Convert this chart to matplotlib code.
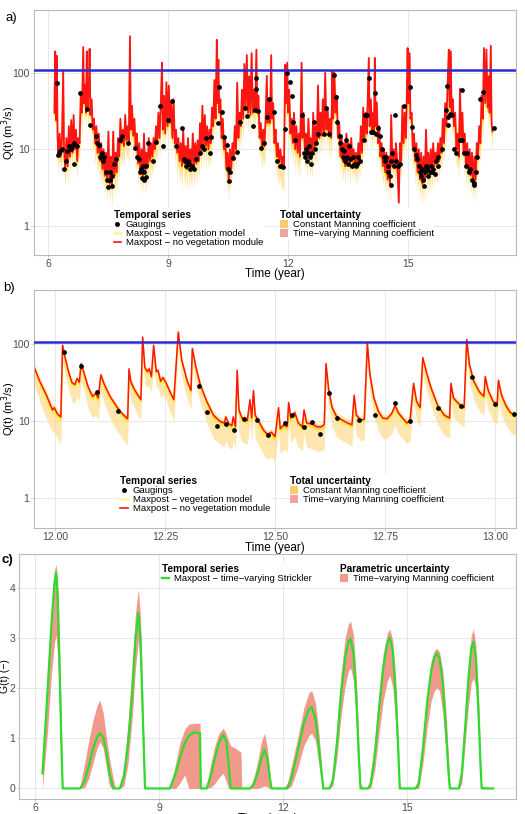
import matplotlib
matplotlib.use("Agg")
import matplotlib.pyplot as plt
from matplotlib.lines import Line2D
from matplotlib.patches import Patch
from matplotlib.ticker import NullLocator

plt.rcParams['font.family'] = ['Liberation Sans', 'DejaVu Sans']

# ---------------- panel a : 2006-2017 discharge ----------------
a_time = [6.15, 6.17, 6.19, 6.21, 6.23, 6.25, 6.28, 6.31, 6.34, 6.37, 6.39, 6.42, 6.45, 6.48, 6.51, 6.54,
          6.57, 6.60, 6.63, 6.66, 6.69, 6.72, 6.75, 6.78, 6.81, 6.84, 6.87, 6.89, 6.92, 6.94, 6.96, 6.98,
          7.01, 7.03, 7.05, 7.08, 7.11, 7.14, 7.17, 7.20, 7.23, 7.26, 7.29, 7.32, 7.35, 7.38, 7.41, 7.44,
          7.47, 7.50, 7.53, 7.56, 7.59, 7.62, 7.65, 7.68, 7.71, 7.74, 7.77, 7.80, 7.83, 7.86, 7.89, 7.92, 7.95, 7.98,
          8.01, 8.04, 8.06, 8.09, 8.12, 8.15, 8.18, 8.21, 8.24, 8.27, 8.30, 8.33, 8.36, 8.39, 8.42, 8.45,
          8.48, 8.51, 8.54, 8.57, 8.60, 8.63, 8.66, 8.69, 8.72, 8.75, 8.78, 8.81, 8.84, 8.86, 8.89, 8.92, 8.95, 8.98,
          9.01, 9.04, 9.07, 9.10, 9.13, 9.16, 9.19, 9.22, 9.25, 9.28, 9.31, 9.34, 9.37, 9.40, 9.43, 9.46,
          9.49, 9.52, 9.55, 9.58, 9.61, 9.64, 9.67, 9.70, 9.73, 9.76, 9.79, 9.82, 9.85, 9.88, 9.91, 9.94, 9.97,
          10.00, 10.03, 10.06, 10.09, 10.12, 10.15, 10.18, 10.21, 10.23, 10.25, 10.27, 10.30, 10.33, 10.36, 10.39, 10.42,
          10.45, 10.48, 10.51, 10.54, 10.57, 10.60, 10.63, 10.66, 10.69, 10.72, 10.75, 10.78, 10.81, 10.84, 10.87, 10.90,
          10.93, 10.96, 10.99,
          11.02, 11.05, 11.08, 11.11, 11.14, 11.17, 11.20, 11.22, 11.25, 11.28, 11.31, 11.34, 11.37, 11.40, 11.43, 11.46,
          11.48, 11.51, 11.54, 11.57, 11.59, 11.62, 11.65, 11.68, 11.71, 11.74, 11.77, 11.80, 11.83, 11.86, 11.89, 11.92,
          11.94, 11.97, 11.99,
          12.02, 12.05, 12.08, 12.11, 12.14, 12.17, 12.20, 12.23, 12.26, 12.29, 12.33, 12.35, 12.38, 12.41, 12.44, 12.47,
          12.50, 12.53, 12.56, 12.59, 12.62, 12.65, 12.68, 12.71, 12.74, 12.77, 12.80, 12.83, 12.86, 12.89, 12.92, 12.95, 12.98,
          13.01, 13.04, 13.07, 13.10, 13.12, 13.15, 13.18, 13.21, 13.24, 13.27, 13.30, 13.33, 13.36, 13.39, 13.42, 13.45,
          13.48, 13.51, 13.54, 13.57, 13.60, 13.63, 13.66, 13.69, 13.72, 13.75, 13.78, 13.81, 13.84, 13.87, 13.90, 13.93,
          13.96, 13.99,
          14.01, 14.03, 14.06, 14.09, 14.12, 14.14, 14.16, 14.18, 14.21, 14.24, 14.27, 14.30, 14.33, 14.36, 14.39, 14.42,
          14.45, 14.48, 14.51, 14.54, 14.57, 14.60, 14.63, 14.66, 14.69, 14.72, 14.76, 14.79, 14.82, 14.85, 14.88, 14.91,
          14.94, 14.98,
          15.00, 15.03, 15.05, 15.08, 15.11, 15.14, 15.17, 15.20, 15.23, 15.26, 15.29, 15.32, 15.35, 15.38, 15.41, 15.44,
          15.47, 15.50, 15.53, 15.56, 15.59, 15.62, 15.65, 15.68, 15.71, 15.74, 15.77, 15.80, 15.83, 15.86, 15.89, 15.92,
          15.95, 15.98,
          16.01, 16.03, 16.06, 16.08, 16.11, 16.14, 16.17, 16.20, 16.23, 16.26, 16.29, 16.32, 16.35, 16.38, 16.41, 16.44,
          16.47, 16.50, 16.53, 16.56, 16.59, 16.62, 16.65, 16.68, 16.71, 16.74, 16.77, 16.80, 16.83, 16.86, 16.89, 16.92,
          16.95, 16.98, 17.01, 17.03, 17.06, 17.08, 17.10]
# maxpost, no vegetation module (red)
a_red = [30, 190, 24, 166, 14, 9, 16, 8, 14, 106, 10, 5.5, 14, 6, 20, 8, 24, 9, 28, 10, 18, 7, 14, 12, 55, 30, 216, 40, 70, 30, 190, 35,
         60, 205, 28, 45, 18, 25, 12, 20, 9, 16, 7, 12, 5.5, 10, 4.5, 9, 3.8, 17, 3.5, 8, 3.2, 17, 4.5, 9, 5, 14, 8, 25, 12, 18, 11, 28, 13, 20,
         12, 300, 18, 37, 15, 25, 11, 16, 6.5, 12, 5, 10, 4.5, 16, 5, 9, 6, 14, 7, 12, 8, 14, 10, 20, 12, 30, 14, 40, 135, 18, 50, 16, 75, 20,
         68, 22, 40, 14, 45, 12, 18, 9, 14, 7, 12, 6, 18, 6.5, 11, 5.5, 14, 6, 10, 5.5, 16, 6, 12, 6.5, 13, 7, 22, 9, 37, 10, 28, 11, 20,
         10, 18, 12, 35, 20, 80, 25, 269, 40, 148, 30, 45, 14, 25, 10, 14, 5.5, 9, 3.8, 10, 5.5, 12, 8, 20, 10, 74, 14, 30, 20, 60, 25, 130, 35, 170, 30,
         90, 28, 180, 30, 60, 35, 200, 30, 50, 14, 22, 10, 18, 11, 25, 91, 22, 45, 22, 170, 25, 40, 12, 18, 8, 12, 7, 10, 6.5, 8, 6, 127, 40, 135, 30,
         60, 16, 25, 12, 30, 10, 20, 9, 16, 8, 135, 14, 30, 10, 16, 8, 25, 9, 14, 8, 30, 10, 20, 12, 68, 14, 30, 15, 45, 16, 100, 18, 35,
         15, 25, 14, 106, 25, 100, 30, 50, 14, 22, 8, 14, 7, 12, 6, 16, 7, 12, 6, 14, 7, 10, 6.5, 9, 6, 12, 6.5, 20, 9, 35, 14, 30, 16, 60,
         156, 20, 45, 17, 30, 18, 156, 20, 41, 12, 20, 8, 12, 6, 10, 5, 9, 4, 8, 3.5, 28, 6, 10, 6, 12, 6.5, 2, 12, 7, 37, 12, 30, 14, 210,
         40, 180, 25, 30, 10, 16, 7, 12, 5, 10, 4, 9, 3.5, 8, 4, 18, 5, 9, 5, 10, 5.5, 12, 6, 9, 6.5, 12, 7, 14, 9, 25, 12, 40, 20, 70,
         200, 35, 190, 30, 45, 20, 30, 10, 16, 8, 62, 13, 30, 9, 16, 6, 12, 5, 10, 4.5, 9, 3.5, 8, 4, 12, 8, 20, 12, 50, 25, 210, 40, 200, 35, 90, 30, 225, 22, 17]
# maxpost, vegetation model (yellow)
a_veg = [28, 175, 22, 150, 13, 8.5, 14, 7, 12, 95, 9, 5, 12, 5.5, 17, 7.5, 20, 8, 24, 9, 16, 6.5, 13, 11, 50, 27, 190, 36, 62, 27, 170, 32,
         55, 180, 25, 40, 16, 22, 11, 18, 8, 14, 6.2, 10, 5, 9, 4, 8, 3.4, 14, 3.2, 7, 3, 15, 4, 8, 4.5, 12, 7, 22, 11, 16, 10, 25, 12, 18,
         11, 260, 16, 33, 13, 22, 10, 14, 6, 10, 4.5, 9, 4, 14, 4.5, 8, 5.5, 12, 6.5, 11, 7, 13, 9, 18, 11, 27, 13, 36, 120, 16, 45, 15, 68, 18,
         60, 20, 36, 13, 40, 11, 16, 8, 12, 6.2, 10, 5.4, 16, 6, 10, 5, 12, 5.5, 9, 5, 14, 5.5, 10, 6, 12, 6.5, 19, 8, 33, 9, 25, 10, 18,
         9, 16, 11, 31, 18, 70, 22, 240, 36, 130, 27, 40, 13, 22, 9, 12, 5, 8, 3.5, 9, 5, 11, 7, 18, 9, 65, 13, 27, 18, 54, 22, 115, 31, 150, 27,
         80, 25, 160, 27, 54, 31, 175, 27, 45, 13, 20, 9, 16, 10, 22, 80, 20, 40, 20, 150, 22, 36, 11, 16, 7, 10, 6, 9, 6, 7, 5.5, 110, 36, 120, 27,
         54, 14, 22, 11, 27, 9, 18, 8, 14, 7, 120, 13, 27, 9, 14, 7, 22, 8, 12, 7, 27, 9, 18, 11, 60, 13, 27, 14, 40, 15, 88, 16, 31,
         14, 22, 13, 95, 22, 88, 27, 45, 13, 20, 7.5, 12, 6.5, 11, 5.5, 14, 6.5, 11, 5.5, 13, 6.5, 9, 6, 8, 5.5, 11, 6, 18, 8, 31, 13, 27, 15, 54,
         140, 18, 40, 16, 27, 16, 140, 18, 37, 11, 18, 7.5, 11, 5.5, 9, 4.5, 8, 3.7, 7, 3.2, 24, 5.5, 9, 5.5, 11, 6, 3.5, 11, 6.5, 33, 11, 27, 13, 190,
         36, 160, 22, 27, 9, 14, 6.5, 11, 4.5, 9, 3.6, 8, 3.2, 7, 3.7, 15, 4.5, 8, 4.5, 9, 5, 11, 5.5, 8, 6, 11, 6.5, 13, 8, 22, 11, 36, 18, 62,
         180, 31, 170, 27, 40, 18, 27, 9, 14, 7, 55, 12, 27, 8, 14, 5.5, 10, 4.5, 9, 4, 8, 3.2, 7, 3.7, 11, 7, 18, 11, 45, 22, 185, 36, 180, 31, 80, 27, 200, 20, 15]
# lower bound of total uncertainty, constant Manning coefficient
a_low = [18, 90, 12, 80, 7, 5, 8, 4.5, 7, 50, 5, 3.3, 6, 3.5, 9, 4.5, 10, 5, 12, 5.5, 9, 4, 8, 7, 25, 16, 90, 20, 32, 16, 85, 18,
         28, 90, 14, 20, 9, 12, 6, 9, 4.5, 7, 3.5, 5, 3, 4.5, 2.5, 4, 2, 6, 1.8, 3.5, 1.7, 6, 2.2, 4, 2.6, 6, 4, 10, 6, 8, 6, 12, 7, 9,
         6, 120, 9, 16, 7, 11, 5.5, 7, 3.5, 5, 2.8, 4.5, 2.5, 6, 2.6, 4, 3.2, 6, 3.8, 6, 4.5, 7, 5.5, 9, 6.5, 14, 7.5, 18, 60, 9, 22, 9, 32, 11,
         30, 12, 18, 7.5, 20, 6.5, 9, 4.5, 6, 3.5, 5, 3, 7, 3.2, 5, 3, 6, 3.2, 4.5, 3, 6, 3.2, 5, 3.5, 6, 4, 9, 5, 15, 5.5, 12, 6, 9,
         5.5, 8, 6, 15, 10, 35, 12, 110, 20, 65, 15, 20, 7, 11, 5, 6, 3, 4, 2.1, 4.5, 3, 6, 4.5, 9, 5.5, 30, 7.5, 14, 10, 27, 12, 55, 17, 75, 15,
         40, 14, 80, 15, 27, 17, 90, 15, 22, 7.5, 10, 5.5, 8, 6, 11, 40, 11, 20, 11, 75, 12, 18, 6, 8, 3.8, 5, 3.2, 4.5, 2.8, 3.5, 2.6, 55, 20, 60, 15,
         27, 8, 11, 6, 13, 5, 9, 4.5, 7, 4, 55, 7, 14, 5, 7, 4, 11, 4.5, 6, 4, 14, 5.5, 9, 6, 30, 7.5, 14, 8, 20, 9, 45, 9, 17,
         8, 12, 7.5, 45, 12, 45, 14, 22, 7.5, 10, 4.5, 6.5, 3.8, 5.5, 3.5, 7, 4, 6, 3.5, 7, 4, 5.5, 3.8, 5, 3.5, 6, 3.8, 9, 5, 15, 8, 14, 9, 27,
         70, 11, 20, 10, 15, 10, 70, 11, 18, 6.5, 9, 4.5, 6, 3.3, 5, 2.8, 4.5, 2.3, 4, 2, 10, 3.3, 5, 3.3, 6, 3.8, 1.8, 6, 4, 15, 6.5, 14, 7.5, 90,
         20, 80, 12, 14, 5, 7, 3.5, 5, 2.6, 4.5, 2, 4, 1.8, 3.5, 2, 6, 2.5, 4, 2.6, 4.5, 3, 5.5, 3.3, 4.5, 3.5, 6, 4, 7, 5, 11, 6.5, 18, 10, 30,
         90, 17, 85, 15, 20, 10, 14, 5.5, 7, 4, 25, 6.5, 14, 4.5, 7, 3.3, 5, 2.8, 4.5, 2.5, 4, 2, 3.8, 2.2, 5.5, 4, 9, 6.5, 20, 12, 90, 20, 85, 17, 40, 15, 100, 12, 10]

a_gauge_time = [6.21, 6.25, 6.27, 6.30, 6.35, 6.40, 6.43, 6.47, 6.52, 6.57,
                6.60, 6.63, 6.65, 6.72, 6.80, 6.97, 7.05, 7.18, 7.22, 7.27,
                7.29, 7.33, 7.36, 7.40, 7.44, 7.47, 7.50, 7.53, 7.55, 7.58,
                7.60, 7.64, 7.70, 7.78, 7.84, 8.00, 8.17, 8.22, 8.26, 8.29,
                8.31, 8.33, 8.36, 8.38, 8.40, 8.43, 8.45, 8.50, 8.62, 8.68,
                8.80, 8.86, 9.00, 9.09, 9.18, 9.34, 9.38, 9.42, 9.45, 9.48,
                9.52, 9.55, 9.60, 9.65, 9.70, 9.78, 9.83, 9.88, 9.93, 10.05,
                10.07, 10.23, 10.26, 10.33, 10.38, 10.47, 10.50, 10.52, 10.55, 10.61,
                10.72, 10.80, 10.91, 10.97, 11.11, 11.16, 11.19, 11.20, 11.24, 11.32,
                11.38, 11.47, 11.52, 11.63, 11.72, 11.78, 11.82, 11.86, 11.92, 11.97,
                12.03, 12.08, 12.11, 12.17, 12.34, 12.38, 12.41, 12.45, 12.47, 12.50,
                12.52, 12.55, 12.57, 12.60, 12.63, 12.66, 12.70, 12.75, 12.88, 12.95,
                13.01, 13.13, 13.19, 13.22, 13.28, 13.30, 13.34, 13.37, 13.40, 13.42,
                13.45, 13.47, 13.50, 13.52, 13.55, 13.58, 13.62, 13.65, 13.68, 13.72,
                13.75, 13.80, 13.88, 13.92, 13.96, 14.01, 14.06, 14.08, 14.11, 14.16,
                14.20, 14.25, 14.29, 14.35, 14.38, 14.42, 14.45, 14.48, 14.50, 14.53,
                14.56, 14.57, 14.60, 14.63, 14.66, 14.70, 14.74, 14.80, 14.88, 15.03,
                15.09, 15.15, 15.18, 15.22, 15.26, 15.28, 15.31, 15.33, 15.36, 15.38,
                15.41, 15.44, 15.47, 15.50, 15.53, 15.56, 15.58, 15.62, 15.66, 15.70,
                15.73, 15.75, 15.84, 15.95, 15.97, 15.99, 16.00, 16.05, 16.10, 16.15,
                16.20, 16.30, 16.34, 16.35, 16.40, 16.43, 16.47, 16.52, 16.55, 16.60,
                16.63, 16.65, 16.68, 16.72, 16.80, 16.87, 17.15]
a_gauge_q = [74, 8.5, 8.8, 9.5, 10, 5.5, 7, 9.5, 11, 10,
             11, 6.5, 12, 11, 55, 34, 21, 15, 12, 11.5,
             8, 9, 7, 8, 5, 4, 3.2, 5, 4, 3.3,
             4.5, 6.5, 7.5, 13, 15, 12, 10.5, 8, 7.5, 5,
             5.5, 4.2, 6, 5, 4, 6, 4.3, 12, 7, 12.5,
             37, 11, 24, 43, 11, 19, 7.5, 7, 6, 7,
             6.5, 5.5, 6, 5.5, 7.5, 9, 11, 10, 14, 9,
             14.5, 22, 66, 31, 14.5, 11.5, 5.5, 3.8, 5, 7.6,
             9.3, 23, 35, 27, 20, 33, 86, 62, 32, 10.5,
             12, 26, 45, 31, 7, 6, 6, 5.9, 18.5, 100,
             76, 50, 23, 13, 28, 9, 8, 10, 7, 9,
             11, 8, 6.5, 9, 22.6, 10, 12, 16, 16, 35,
             16, 92, 48, 23, 15, 12, 10, 8, 9.5, 7,
             13, 8, 6.5, 11, 7.5, 6, 8, 6.5, 6, 6.5,
             8, 7, 13, 28, 28, 84, 17, 16.8, 16.8, 55,
             16, 19, 15, 10, 8, 7, 8, 6, 5, 4.5,
             7, 3.4, 9, 6, 28, 7, 6, 6.5, 37, 66,
             19.5, 10, 8.5, 7.5, 6, 5, 4.5, 5.5, 4, 3.3,
             5, 6, 5.5, 4.5, 5, 6, 5, 5.5, 4.8, 7,
             6, 8, 10, 33, 68, 26, 21, 29, 28, 10,
             9, 13, 60, 13, 9, 6, 9, 5, 5.5, 4,
             3.6, 3.4, 5, 8, 45, 56, 19]

flood_threshold = 108

# ---------------- panel b : zoom on 2012 ----------------
b_time = [11.952, 11.965, 11.980, 11.994, 11.998, 12.005, 12.013, 12.017, 12.022, 12.030,
          12.038, 12.045, 12.050, 12.055, 12.059, 12.066, 12.075, 12.085, 12.092, 12.098,
          12.104, 12.112, 12.125, 12.140, 12.150, 12.160, 12.165, 12.168, 12.172, 12.180,
          12.188, 12.195, 12.199, 12.204, 12.210, 12.214, 12.219, 12.224, 12.230, 12.234,
          12.240, 12.245, 12.252, 12.260, 12.270, 12.280, 12.288, 12.300, 12.309, 12.312,
          12.320, 12.330, 12.345, 12.360, 12.375, 12.385, 12.388, 12.395, 12.402, 12.405,
          12.410, 12.414, 12.418, 12.425, 12.437, 12.443, 12.447, 12.451, 12.455, 12.465,
          12.475, 12.483, 12.492, 12.500, 12.508, 12.512, 12.520, 12.528, 12.531, 12.536,
          12.545, 12.553, 12.562, 12.566, 12.572, 12.585, 12.595, 12.605, 12.612, 12.616,
          12.622, 12.630, 12.640, 12.650, 12.665, 12.675, 12.680, 12.685, 12.695, 12.703,
          12.710, 12.716, 12.725, 12.735, 12.745, 12.755, 12.765, 12.773, 12.780, 12.790,
          12.800, 12.807, 12.815, 12.822, 12.830, 12.836, 12.845, 12.855, 12.870, 12.885,
          12.897, 12.900, 12.906, 12.915, 12.922, 12.930, 12.936, 12.942, 12.952, 12.965,
          12.975, 12.978, 12.985, 12.995, 13.005, 13.008, 13.015, 13.025, 13.035, 13.045, 13.050]
b_red = [51, 33, 22, 14, 15, 12.5, 11.4, 97, 70, 45,
         32, 30, 36, 32, 56, 42, 28, 21, 23, 20,
         40, 30, 21, 15.5, 13, 11.4, 10.8, 48, 33, 26,
         22, 19, 124, 50, 44, 48, 38, 97, 44, 46,
         33, 37, 32, 25, 19, 144, 62, 34, 25, 88,
         51, 30, 18, 12, 10, 9.5, 11.4, 9.3, 8.8, 11.4,
         8.5, 46, 14, 11, 10.2, 19, 11, 25, 12, 9.5,
         7.5, 6.8, 7.2, 6.3, 15, 8, 9, 8.5, 17.5, 11,
         13, 9.5, 8.5, 14, 9.5, 9.2, 8.5, 8.5, 9, 56,
         26, 15, 11.5, 10.6, 9.5, 9, 21.7, 12, 10.4, 10.6,
         102, 40, 20, 13.5, 11, 10.8, 12.5, 16, 13, 11,
         9.5, 10.2, 31, 18, 15, 67, 42, 27, 16, 12,
         11, 31, 20, 17.5, 16, 15, 115, 55, 33, 24,
         21, 38, 25, 18.5, 16, 34, 22, 16, 13, 12, 13]
b_veg = [49, 31, 20, 13, 14, 11.5, 10.5, 92, 66, 42,
         30, 28, 34, 30, 53, 40, 26, 19.5, 21.5, 18.5,
         38, 28, 19.5, 14.5, 12, 10.5, 10, 45, 31, 24,
         21, 18, 118, 47, 42, 46, 36, 92, 42, 44,
         31, 35, 30, 23.5, 18, 137, 59, 32, 23.5, 83,
         48, 28, 17, 11, 9.2, 8.8, 10.5, 8.6, 8, 10.5,
         7.8, 43, 13, 10.2, 9.4, 17.5, 10.2, 23, 11, 8.8,
         6.9, 6.2, 6.6, 5.8, 14, 7.4, 8.3, 7.8, 16, 10,
         12, 8.8, 7.8, 13, 8.8, 8.5, 7.8, 7.8, 8.3, 53,
         24.5, 14, 10.8, 10, 8.9, 8.4, 20.5, 11.3, 9.8, 10,
         97, 38, 19, 12.7, 10.4, 10.2, 11.8, 15, 12.2, 10.4,
         9, 9.6, 29, 17, 14, 63, 40, 25.5, 15, 11.3,
         10.4, 29, 19, 16.5, 15, 14, 108, 52, 31, 22.5,
         19.8, 36, 23.5, 17.5, 15, 32, 20.7, 15, 12.2, 11.3, 12.2]
b_low = [30, 18, 11, 7, 7.5, 6, 5, 60, 42, 27,
         18, 17, 21, 18, 34, 25, 15, 11, 12, 10.5,
         24, 17, 11, 7.5, 6.3, 5.2, 5, 29, 19, 15,
         12, 10.5, 75, 30, 27, 29, 23, 58, 27, 28,
         20, 22, 19, 14, 10, 85, 37, 20, 14, 52,
         30, 17, 9.5, 6, 5, 4.7, 5.6, 4.6, 4.3, 5.6,
         4.2, 26, 7, 5.4, 5, 9.5, 5.4, 12.5, 6, 4.6,
         3.6, 3.2, 3.4, 3.0, 7.5, 3.8, 4.3, 4, 9, 5.3,
         6.3, 4.6, 4.1, 6.8, 4.6, 4.4, 4.1, 4.1, 4.3, 33,
         15, 8.5, 6.3, 5.7, 5.1, 4.8, 12.5, 6.5, 5.6, 5.7,
         60, 23, 11.5, 7.5, 6, 5.9, 6.8, 9, 7, 6,
         5.1, 5.5, 18, 10, 8.5, 40, 25, 15.5, 9, 6.6,
         6, 18, 11, 10, 9, 8.5, 68, 32, 19, 13.5,
         11.8, 22, 14, 10.3, 9, 19.5, 12.3, 8.8, 7.2, 6.5, 7]
b_high = [58, 38, 25, 16, 17, 14, 13, 105, 78, 50,
          36, 34, 40, 36, 62, 47, 31, 23, 25, 22,
          45, 33, 23, 17, 14.5, 12.5, 12, 53, 37, 29,
          24, 21, 140, 55, 49, 53, 42, 108, 49, 51,
          37, 41, 35, 28, 21, 165, 68, 37, 28, 98,
          56, 33, 20, 13.5, 11.2, 10.6, 12.6, 10.4, 9.8, 12.6,
          9.5, 52, 15.5, 12.3, 11.4, 21, 12.3, 28, 13.4, 10.6,
          8.4, 7.6, 8, 7.0, 17, 9, 10, 9.5, 19.5, 12.3,
          14.5, 10.6, 9.5, 15.5, 10.6, 10.3, 9.5, 9.5, 10, 63,
          29, 17, 13, 12, 10.7, 10.2, 24.5, 13.5, 11.7, 12,
          118, 45, 22.5, 15, 12.4, 12.2, 14, 18, 14.7, 12.4,
          10.7, 11.5, 35, 20, 17, 76, 47, 30, 18, 13.5,
          12.4, 35, 22.5, 19.7, 18, 17, 135, 62, 37, 27,
          23.5, 43, 28, 21, 18, 38, 24.7, 18, 14.6, 13.5, 14.6]
b_gauge_time = [12.020, 12.058, 12.096, 12.142, 12.327, 12.346, 12.369, 12.388, 12.407, 12.430,
                12.460, 12.484, 12.523, 12.538, 12.565, 12.584, 12.603, 12.622, 12.640, 12.692,
                12.727, 12.773, 12.807, 12.871, 12.922, 12.947, 13.000, 13.044]
b_gauge_q = [79, 52, 24, 13.5, 29, 13, 8.7, 9.3, 7.8, 10.6,
             10.4, 6.7, 9.5, 12, 8.3, 9.7, 6.8, 23.6, 11, 10.4,
             12, 17.3, 10.2, 14.8, 16, 37, 16.5, 12.5]
b_ticks = [12.00, 12.25, 12.50, 12.75, 13.00]

# ---------------- panel c : vegetation growth G(t) ----------------
c_time = [6.18, 6.30, 6.40, 6.47, 6.51, 6.55, 6.60, 6.64, 6.67, 7.05,
          7.09, 7.20, 7.30, 7.40, 7.50, 7.57, 7.65, 7.73, 7.80, 7.89, 7.95,
          8.05, 8.15, 8.25, 8.35, 8.43, 8.50, 8.55, 8.60, 8.66, 8.70,
          9.26, 9.40, 9.50, 9.62, 9.72, 9.85, 9.97, 9.99, 10.01,
          10.15, 10.25, 10.35, 10.45, 10.55, 10.62, 10.68, 10.73, 10.85, 10.98, 11.00,
          11.20, 11.30, 11.40, 11.48, 11.55, 11.62, 11.68, 11.72,
          12.00, 12.10, 12.20, 12.35, 12.50, 12.62, 12.69, 12.78, 12.86, 12.93, 12.97, 13.02,
          13.12, 13.20, 13.30, 13.40, 13.50, 13.58, 13.63, 13.70, 13.77, 13.83, 13.87, 13.95,
          14.05, 14.12, 14.22, 14.32, 14.42, 14.52, 14.58, 14.65, 14.72, 14.78, 14.82, 14.86,
          15.20, 15.28, 15.38, 15.48, 15.58, 15.66, 15.71, 15.78, 15.86, 15.94, 16.00, 16.03, 16.06,
          16.25, 16.32, 16.40, 16.48, 16.55, 16.60, 16.66, 16.72, 16.77, 16.80, 17.08]
c_growth = [0.30, 1.9, 3.3, 4.1, 4.3, 3.8, 2.2, 0.8, 0.0, 0.0,
            0, 0.15, 0.45, 0.78, 1.02, 1.1, 1.02, 0.7, 0.3, 0, 0,
            0, 0.25, 0.9, 1.9, 3.0, 3.5, 3.0, 1.6, 0, 0,
            0, 0.3, 0.6, 0.9, 1.05, 1.12, 1.1, 1.1, 0,
            0, 0.25, 0.6, 0.92, 1.07, 0.95, 0.5, 0, 0, 0, 0,
            0, 0.1, 0.35, 0.62, 0.77, 0.6, 0.2, 0,
            0, 0, 0.2, 0.75, 1.3, 1.58, 1.62, 1.4, 0.85, 0.3, 0, 0,
            0, 0.15, 0.9, 1.9, 2.6, 2.93, 2.98, 2.7, 1.8, 0.6, 0, 0,
            0, 0.1, 0.7, 1.6, 2.4, 2.9, 3.0, 2.75, 1.9, 0.8, 0, 0,
            0, 0.1, 0.8, 1.7, 2.35, 2.62, 2.69, 2.6, 2.1, 1.1, 0.3, 0, 0,
            0, 0.3, 1.2, 2.2, 2.8, 2.92, 2.6, 1.6, 0.5, 0, 0]
c_low = [0.0, 1.1, 2.3, 2.9, 3.05, 2.6, 1.3, 0.2, 0, 0,
         0, 0.02, 0.2, 0.5, 0.8, 0.93, 0.8, 0.4, 0.05, 0, 0,
         0, 0.05, 0.5, 1.4, 2.4, 2.95, 2.5, 1.1, 0, 0,
         0, 0, 0.1, 0.27, 0, 0, 0, 0, 0,
         0, 0.02, 0.1, 0.22, 0.3, 0.15, 0, 0, 0, 0, 0,
         0, 0, 0, 0.03, 0.05, 0.03, 0, 0,
         0, 0, 0.05, 0.4, 0.85, 1.05, 1.1, 0.95, 0.5, 0.1, 0, 0,
         0, 0.05, 0.6, 1.45, 2.05, 2.35, 2.4, 2.15, 1.3, 0.3, 0, 0,
         0, 0, 0.4, 1.1, 1.75, 2.15, 2.25, 2.0, 1.3, 0.4, 0, 0,
         0, 0, 0.5, 1.2, 1.75, 1.95, 2.0, 1.95, 1.5, 0.7, 0.05, 0, 0,
         0, 0.1, 0.9, 1.65, 2.1, 2.2, 2.0, 1.1, 0.2, 0, 0]
c_high = [0.35, 2.3, 3.6, 4.35, 4.46, 4.1, 2.7, 1.2, 0, 0,
          0.05, 0.5, 0.95, 1.35, 1.65, 1.76, 1.5, 1.0, 0.6, 0.2, 0,
          0, 0.45, 1.3, 2.5, 3.5, 3.97, 3.4, 2.0, 0.1, 0,
          0, 0.5, 0.9, 1.18, 1.28, 1.3, 1.3, 1.3, 0,
          0.05, 0.5, 0.85, 1.1, 1.2, 1.1, 0.95, 0.85, 0.8, 0.72, 0,
          0, 0.25, 0.6, 0.95, 1.1, 0.8, 0.3, 0,
          0, 0.1, 0.45, 1.0, 1.6, 1.9, 1.95, 1.7, 1.15, 0.45, 0.05, 0,
          0, 0.35, 1.2, 2.3, 3.0, 3.28, 3.33, 3.05, 2.2, 0.9, 0.1, 0,
          0, 0.3, 1.0, 1.95, 2.7, 3.1, 3.17, 2.95, 2.2, 1.1, 0.1, 0,
          0, 0.3, 1.05, 1.95, 2.55, 2.75, 2.79, 2.72, 2.35, 1.5, 0.6, 0.1, 0,
          0, 0.5, 1.5, 2.5, 3.05, 3.18, 2.85, 1.9, 0.7, 0.05, 0]

year_ticks = [6, 9, 12, 15]

# colours
YELLOW_BAND = '#FFD36E'
PINK_BAND = '#F07C7C'
VEG_LINE = '#FFF000'
RED_LINE = '#FF1414'
BLUE = '#2A2AD8'
SALMON = '#F19A8B'
GREEN = '#2EDB2E'
GRID = '#E4E4E4'
BORDER = '#B9B9B9'
TICKTXT = '#4D4D4D'


def style(ax):
    ax.set_facecolor('white')
    for s in ax.spines.values():
        s.set_color(BORDER)
        s.set_linewidth(0.8)
    ax.grid(True, color=GRID, lw=0.6)
    ax.set_axisbelow(True)
    ax.tick_params(length=2, width=0.5, color=BORDER, labelsize=7.5,
                   labelcolor=TICKTXT, pad=1.2)


def q_legends(ax, x1, x2, ytop):
    h1 = [Line2D([], [], marker='o', ls='', color='black', ms=2.5),
          Line2D([], [], color='#FFF7A0', lw=2),
          Line2D([], [], color=RED_LINE, lw=1.2)]
    l1 = ax.legend(h1, ['Gaugings', 'Maxpost \u2212 vegetation model',
                        'Maxpost \u2212 no vegetation module'],
                   title='Temporal series', loc='upper left', bbox_to_anchor=(x1, ytop),
                   fontsize=6.8, title_fontproperties={'weight': 'bold', 'size': 7.3},
                   alignment='left', frameon=True, facecolor='white', edgecolor='none',
                   framealpha=1, fancybox=False, borderpad=0.15, labelspacing=0.0,
                   handlelength=0.8, handletextpad=0.5, borderaxespad=0)
    ax.add_artist(l1)
    h2 = [Patch(facecolor='#F7CB6E', edgecolor='none'),
          Patch(facecolor='#EFA3A3', edgecolor='none')]
    ax.legend(h2, ['Constant Manning coefficient', 'Time\u2212varying Manning coefficient'],
              title='Total uncertainty', loc='upper left', bbox_to_anchor=(x2, ytop),
              fontsize=6.8, title_fontproperties={'weight': 'bold', 'size': 7.3},
              alignment='left', frameon=True, facecolor='white', edgecolor='none',
              framealpha=1, fancybox=False, borderpad=0.15, labelspacing=0.0,
              handlelength=0.8, handleheight=0.9, handletextpad=0.5, borderaxespad=0)


fig = plt.figure(figsize=(5.25, 8.14), dpi=100)
W, H = 525.0, 814.0

# ---- a)
ax = fig.add_axes([34 / W, 1 - 255 / H, 482 / W, 245 / H])
style(ax)
ax.set_yscale('log')
ax.fill_between(a_time, a_low, a_red, color=YELLOW_BAND, alpha=0.6, lw=0)
ax.fill_between(a_time, a_veg, a_red, color=PINK_BAND, alpha=0.6, lw=0)
ax.plot(a_time, a_veg, color=VEG_LINE, lw=1.0)
ax.plot(a_time, a_red, color=RED_LINE, lw=1.3)
ax.plot(a_gauge_time, a_gauge_q, 'o', color='black', ms=2.4, zorder=4)
ax.axhline(flood_threshold, color=BLUE, lw=1.8, zorder=5)
ax.set_xlim(5.64, 17.69)
ax.set_ylim(0.414, 660)
ax.set_xticks(year_ticks)
ax.set_yticks([1, 10, 100])
ax.set_yticklabels(['1', '10', '100'])
ax.yaxis.set_minor_locator(NullLocator())
ax.set_xlabel('Time (year)', fontsize=8.5, labelpad=-1)
ax.set_ylabel('Q(t) (m$^3$/s)', fontsize=8)
ax.yaxis.set_label_coords(-0.034, 0.5)
q_legends(ax, 0.162, 0.508, 0.19)
fig.text(5 / W, 1 - 18 / H, 'a)', fontsize=9.5, va='center')

# ---- b)
ax = fig.add_axes([34 / W, 1 - 528 / H, 482 / W, 238 / H])
style(ax)
ax.set_yscale('log')
ax.fill_between(b_time, b_low, b_high, color=YELLOW_BAND, alpha=0.55, lw=0)
ax.fill_between(b_time, b_veg, b_red, color=PINK_BAND, alpha=0.6, lw=0)
ax.plot(b_time, b_veg, color=VEG_LINE, lw=1.1)
ax.plot(b_time, b_red, color=RED_LINE, lw=1.1)
ax.plot(b_gauge_time, b_gauge_q, 'o', color='black', ms=2.4, zorder=4)
ax.axhline(flood_threshold, color=BLUE, lw=1.8, zorder=5)
ax.set_xlim(11.952, 13.048)
ax.set_ylim(0.41, 507)
ax.set_xticks(b_ticks)
ax.set_xticklabels(['%.2f' % t for t in b_ticks])
ax.set_yticks([1, 10, 100])
ax.set_yticklabels(['1', '10', '100'])
ax.yaxis.set_minor_locator(NullLocator())
ax.set_xlabel('Time (year)', fontsize=8.5, labelpad=-0.5)
ax.set_ylabel('Q(t) (m$^3$/s)', fontsize=8)
ax.yaxis.set_label_coords(-0.034, 0.5)
q_legends(ax, 0.176, 0.529, 0.225)
fig.text(3 / W, 1 - 288 / H, 'b)', fontsize=9.5, va='center')

# ---- c)
ax = fig.add_axes([19 / W, 1 - 799 / H, 497 / W, 245 / H])
style(ax)
ax.tick_params(axis='y', length=1.5, pad=1.0)
ax.fill_between(c_time, c_low, c_high, color=SALMON, lw=0)
ax.plot(c_time, c_growth, color=GREEN, lw=1.6)
ax.set_xlim(5.613, 17.63)
ax.set_ylim(-0.21, 4.67)
ax.set_xticks(year_ticks)
ax.set_yticks([0, 1, 2, 3, 4])
ax.set_xlabel('Time (year)', fontsize=8.5, labelpad=0)
ax.set_ylabel('G(t) (\u2212)', fontsize=7.5)
ax.yaxis.set_label_coords(-0.019, 0.5)
l1 = ax.legend([Line2D([], [], color=GREEN, lw=1.6)], ['Maxpost \u2212 time\u2212varying Strickler'],
               title='Temporal series', loc='upper left', bbox_to_anchor=(0.284, 0.965),
               fontsize=6.8, title_fontproperties={'weight': 'bold', 'size': 7.3},
               alignment='left', frameon=True, facecolor='white', edgecolor='none',
               framealpha=1, fancybox=False, borderpad=0.15, labelspacing=0.0,
               handlelength=0.8, handletextpad=0.5, borderaxespad=0)
ax.add_artist(l1)
ax.legend([Patch(facecolor=SALMON, edgecolor='none')], ['Time\u2212varying Manning coefficient'],
          title='Parametric uncertainty', loc='upper left', bbox_to_anchor=(0.644, 0.965),
          fontsize=6.8, title_fontproperties={'weight': 'bold', 'size': 7.3},
          alignment='left', frameon=True, facecolor='white', edgecolor='none',
          framealpha=1, fancybox=False, borderpad=0.15, labelspacing=0.0,
          handlelength=0.8, handleheight=0.9, handletextpad=0.5, borderaxespad=0)
fig.text(2 / W, 1 - 560 / H, 'c)', fontsize=9.5, fontweight='bold', va='center')

fig.savefig('out.png', dpi=100)
